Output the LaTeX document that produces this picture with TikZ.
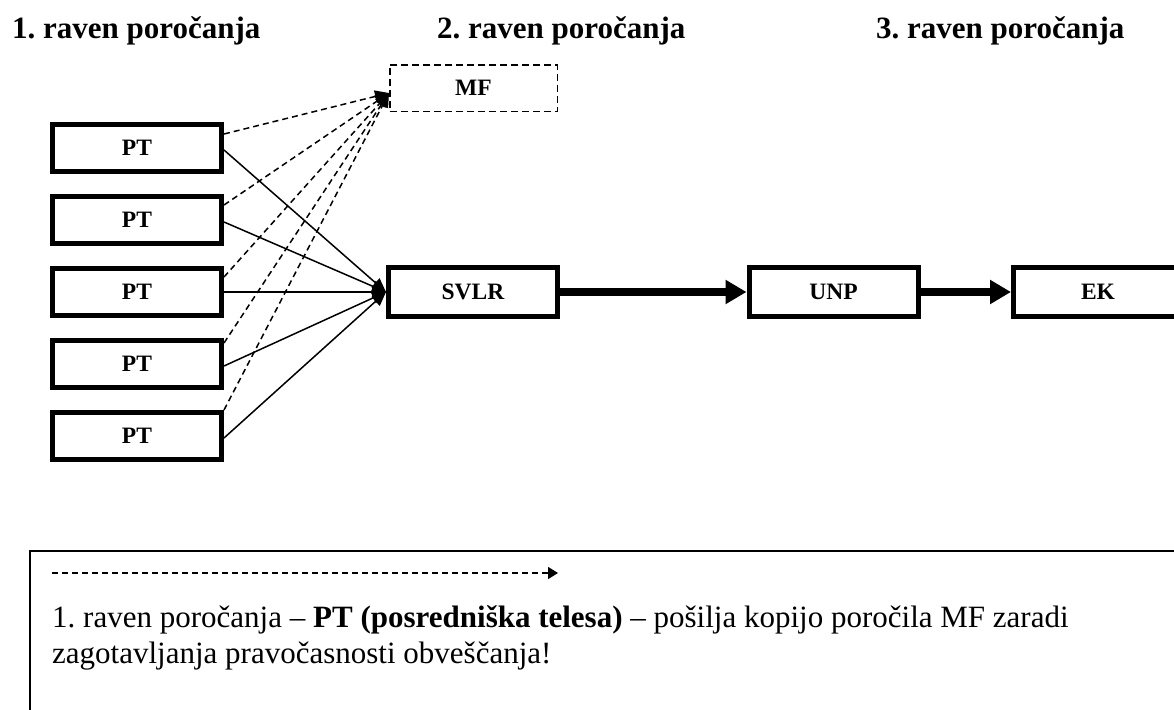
\documentclass[tikz,border=0pt]{standalone}
\usepackage{fontspec}
\setmainfont{Liberation Serif}
\usetikzlibrary{arrows.meta}
\frenchspacing
\tikzset{
  ptbox/.style={draw, line width=5pt, minimum width=169pt, minimum height=47pt, inner sep=0pt, font=\bfseries\fontsize{23.5}{28}\selectfont},
  bigbox/.style={ptbox, minimum height=49pt},
  mfbox/.style={draw, dashed, dash pattern=on 7pt off 4pt, line width=1.5pt, minimum width=167.5pt, minimum height=46.5pt, inner sep=0pt, font=\bfseries\fontsize{23.5}{28}\selectfont},
  thin/.style={line width=1.5pt, -{Triangle[length=14pt,width=12pt]}},
  thindash/.style={thin, dash pattern=on 6pt off 4pt},
  thick/.style={line width=8pt, -{Triangle[length=21pt,width=23pt]}},
  head/.style={anchor=base west, inner sep=0pt, font=\bfseries\fontsize{31}{36}\selectfont},
  legtext/.style={anchor=base west, inner sep=0pt, font=\fontsize{31}{36}\selectfont}
}
\begin{document}
\begin{tikzpicture}[x=1pt, y=-1pt]
\useasboundingbox (0,0) rectangle (1174,709);
\clip (0,0) rectangle (1174,709);
% headers
\node[head] (h1) at (12,38) {1. raven poročanja};
\node[head] (h2) at (437,38) {2. raven poročanja};
\node[head] (h3) at (876,38) {3. raven poročanja};
% boxes
\node[ptbox] (pt1) at (137,148) {PT};
\node[ptbox] (pt2) at (137,220) {PT};
\node[ptbox] (pt3) at (137,292) {PT};
\node[ptbox] (pt4) at (137,364) {PT};
\node[ptbox] (pt5) at (137,436) {PT};
\node[mfbox] (mf) at (473.5,88) {MF};
\node[bigbox] (svlr) at (473,292) {SVLR};
\node[bigbox] (unp) at (833.5,292) {UNP};
\node[bigbox] (ek) at (1098,292) {EK};
% dashed arrows to MF
\draw[thindash] ([yshift=14pt]pt1.east) -- ([yshift=-5pt]mf.west);
\draw[thindash] ([yshift=15pt]pt2.east) -- ([yshift=-5pt]mf.west);
\draw[thindash] ([yshift=15pt]pt3.east) -- ([yshift=-5pt]mf.west);
\draw[thindash] ([yshift=21pt]pt4.east) -- ([yshift=-5pt]mf.west);
\draw[thindash] ([yshift=26pt]pt5.east) -- ([yshift=-5pt]mf.west);
% solid arrows to SVLR
\draw[thin] ([yshift=-2pt]pt1.east) -- (svlr.west);
\draw[thin] ([yshift=-2pt]pt2.east) -- (svlr.west);
\draw[thin] (pt3.east) -- (svlr.west);
\draw[thin] ([yshift=-2pt]pt4.east) -- (svlr.west);
\draw[thin] ([yshift=-2pt]pt5.east) -- (svlr.west);
% thick arrows
\draw[thick] (svlr.east) -- (unp.west);
\draw[thick] (unp.east) -- (ek.west);
% legend
\draw[line width=2pt] (1190,551) -- (30,551) -- (30,720);
\coordinate (la) at (52,573);
\coordinate (lb) at (558,573);
\draw[line width=1.5pt, dash pattern=on 6pt off 4pt, -{Triangle[length=10pt,width=12pt]}] (la) -- (lb);
\node[legtext] (l1) at (52,627) {1. raven poročanja – \textbf{PT (posredniška telesa)} – pošilja kopijo poročila MF zaradi};
\node[legtext] (l2) at (52,663) {zagotavljanja pravočasnosti obveščanja!};
\end{tikzpicture}
\end{document}
